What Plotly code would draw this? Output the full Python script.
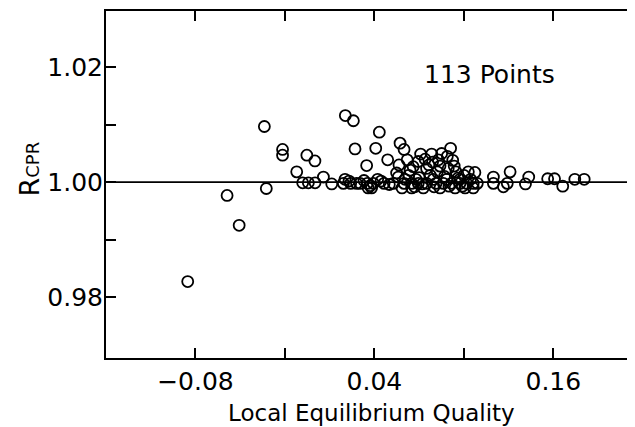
import plotly.graph_objects as go

# local equilibrium quality vs R_CPR
quality = [
    -0.0852, -0.0588, -0.0507, -0.0338, -0.0325, -0.0216, -0.0216, -0.0121,
    -0.0053, 0.0001, -0.0081, -0.0043, 0.0002, 0.0058, 0.0114,
    0.0205, 0.0259, 0.0270, 0.0409, 0.0433, 0.0572, 0.0599, 0.0348, 0.0489,
    0.0565, 0.0620, 0.0710, 0.0784, 0.0851, 0.0911, 0.0694, 0.0766, 0.0829,
    0.0889, 0.0925,
    0.0549, 0.0639, 0.0750, 0.0822, 0.0895, 0.0947, 0.1030, 0.1074,
    0.0192, 0.0241, 0.0304, 0.0353, 0.0393, 0.0465, 0.0527, 0.0599, 0.0650,
    0.0694, 0.0750, 0.0813, 0.0862, 0.0918, 0.0974, 0.1019, 0.1063,
    0.0358, 0.0381, 0.0650, 0.0728, 0.0840, 0.0941, 0.1008, 0.1063,
    0.0203, 0.0422, 0.0605, 0.0679, 0.0795, 0.0885, 0.0974,
    0.1198, 0.1198, 0.1265, 0.1291, 0.1310, 0.1413, 0.1435, 0.1562, 0.1608,
    0.1663, 0.1744, 0.1807,
    0.0230, 0.0280, 0.0330, 0.0372, 0.0445, 0.0500, 0.0560, 0.0585, 0.0630,
    0.0660, 0.0700, 0.0720, 0.0740, 0.0775, 0.0800, 0.0840, 0.0870, 0.0900,
    0.0935, 0.0960, 0.0990, 0.1000, 0.1045, 0.1090, 0.0670, 0.0790,
]
r_cpr = [
    0.9827, 0.9977, 0.9925, 1.0097, 0.9989, 1.0057, 1.0047, 1.0018,
    1.0047, 1.0037, 0.9999, 0.9999, 0.9999, 1.0009, 0.9997,
    1.0116, 1.0107, 1.0058, 1.0059, 1.0087, 1.0068, 1.0057, 1.0029, 1.0039,
    1.0030, 1.0039, 1.0049, 1.0049, 1.0050, 1.0059, 1.0036, 1.0030, 1.0039,
    1.0045, 1.0038,
    1.0016, 1.0021, 1.0024, 1.0018, 1.0024, 1.0018, 1.0018, 1.0017,
    0.9998, 0.9998, 0.9998, 0.9998, 0.9998, 0.9998, 0.9998, 0.9998, 0.9998,
    0.9998, 0.9998, 0.9998, 0.9998, 0.9998, 0.9998, 0.9998, 0.9998,
    0.9990, 0.9990, 0.9990, 0.9990, 0.9990, 0.9990, 0.9990, 0.9990,
    1.0005, 1.0005, 1.0005, 1.0005, 1.0005, 1.0005, 1.0005,
    1.0009, 0.9998, 0.9992, 0.9998, 1.0018, 0.9997, 1.0009, 1.0006, 1.0006,
    0.9993, 1.0005, 1.0005,
    1.0002, 0.9998, 1.0003, 0.9994, 1.0002, 0.9996, 1.0009, 0.9990, 1.0012,
    1.0027, 1.0008, 0.9997, 1.0040, 1.0012, 0.9992, 1.0028, 1.0010, 0.9993,
    1.0028, 1.0007, 0.9993, 1.0012, 1.0005, 0.9998, 0.9992, 1.0035,
]

x_ticks = [-0.08, -0.02, 0.04, 0.10, 0.16]
x_labels = ["\u22120.08", "", "0.04", "", "0.16"]
y_ticks = [0.98, 0.99, 1.00, 1.01, 1.02]
y_labels = ["0.98", "", "1.00", "", "1.02"]

FONT = "DejaVu Sans"

fig = go.Figure()
fig.add_trace(go.Scatter(
    x=quality, y=r_cpr, mode="markers",
    marker=dict(symbol="circle-open", size=11, color="black",
                line=dict(width=1.8, color="black")),
    showlegend=False,
))
fig.add_hline(y=1.0, line=dict(color="black", width=1.8), layer="below")

fig.add_annotation(x=0.1174, y=1.0187, text="113 Points", showarrow=False,
                   font=dict(size=25, color="black", family=FONT))
fig.add_annotation(xref="paper", yref="paper", x=0.51, y=-0.1585,
                   xanchor="center", yanchor="middle",
                   text="Local Equilibrium Quality", showarrow=False,
                   font=dict(size=23, color="black", family=FONT))
fig.add_annotation(xref="paper", yref="paper", x=-0.146, y=0.546,
                   xanchor="center", yanchor="middle",
                   text="R<span style='font-size:18px'>CPR</span>",
                   textangle=-90, showarrow=False,
                   font=dict(size=27, color="black", family=FONT))

fig.update_xaxes(
    range=[-0.14, 0.2094], tickvals=x_ticks, ticktext=x_labels,
    ticks="inside", ticklen=10, tickwidth=1.8, tickcolor="black",
    showline=True, linecolor="black", linewidth=2, mirror="ticks",
    showgrid=False, zeroline=False,
    tickfont=dict(size=25, color="black", family=FONT),
)
fig.update_yaxes(
    range=[0.9694, 1.0298], tickvals=y_ticks, ticktext=y_labels,
    ticks="inside", ticklen=10, tickwidth=1.8, tickcolor="black",
    showline=True, linecolor="black", linewidth=2,
    showgrid=False, zeroline=False, ticklabelstandoff=-4,
    tickfont=dict(size=25, color="black", family=FONT),
)
# the page adds an 8 px body margin, so the figure is sized and offset for it
fig.update_layout(
    width=619, height=427,
    margin=dict(l=98, r=0, t=3, b=77),
    paper_bgcolor="white", plot_bgcolor="white",
    font=dict(family=FONT, color="black"),
)
fig.write_html("out.html")
